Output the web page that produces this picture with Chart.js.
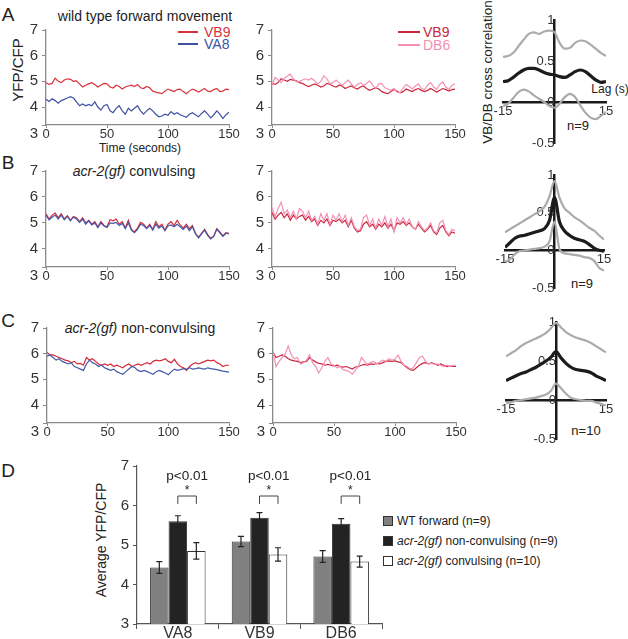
<!DOCTYPE html>
<html>
<head>
<meta charset="utf-8">
<title>YFP/CFP ratios in motor neurons</title>
<script src="https://cdn.jsdelivr.net/npm/chart.js"></script>
<style>
body { margin: 0; background: #fff; font-family: "Liberation Sans", Arial, sans-serif; color: #222; }
#wrap { position: relative; width: 628px; height: 639px; overflow: hidden; }
#wrap canvas { position: absolute; left: 0; top: 0; }
.t { position: absolute; white-space: nowrap; line-height: 1; transform: translate(-50%, -50%); }
.l { position: absolute; white-space: nowrap; line-height: 1; transform: translate(0, -50%); }
.rot { transform: translate(-50%, -50%) rotate(-90deg); }
.seg { position: absolute; height: 2px; }
.sw { position: absolute; width: 8px; height: 8px; border: 1px solid #333; }
</style>
</head>
<body>
<div id="wrap">
  <div class="t" style="left:8px;top:14px;font-size:19px">A</div>
  <div class="t" style="left:8px;top:162px;font-size:19px">B</div>
  <div class="t" style="left:8px;top:320px;font-size:19px">C</div>
  <div class="t" style="left:8px;top:470px;font-size:19px">D</div>

  <div class="t" style="left:145px;top:16px;font-size:14px">wild type forward movement</div>
  <div class="t" style="left:134px;top:171px;font-size:14px"><i>acr-2(gf)</i> convulsing</div>
  <div class="t" style="left:140px;top:328px;font-size:14px"><i>acr-2(gf)</i> non-convulsing</div>

  <div class="t rot" style="left:17px;top:70px;font-size:15px">YFP/CFP</div>
  <div class="t" style="left:140px;top:148px;font-size:12px">Time (seconds)</div>

  <div class="seg" style="left:178px;top:31px;width:20px;background:#d8323c"></div>
  <div class="l" style="left:204px;top:32px;font-size:14px;color:#d8323c">VB9</div>
  <div class="seg" style="left:178px;top:43px;width:20px;background:#3f52a3"></div>
  <div class="l" style="left:204px;top:44px;font-size:14px;color:#3f52a3">VA8</div>

  <div class="seg" style="left:398px;top:31px;width:22px;background:#c9283c"></div>
  <div class="l" style="left:423px;top:32px;font-size:14px;color:#c9283c">VB9</div>
  <div class="seg" style="left:398px;top:44px;width:22px;background:#f291b5"></div>
  <div class="l" style="left:423px;top:45px;font-size:14px;color:#f291b5">DB6</div>

  <div class="t rot" style="left:488px;top:72px;font-size:13.5px">VB/DB cross correlation</div>
  <div class="t" style="left:610px;top:89px;font-size:12px">Lag (s)</div>
  <div class="t" style="left:578px;top:125px;font-size:13px">n=9</div>
  <div class="t" style="left:582px;top:283px;font-size:13px">n=9</div>
  <div class="t" style="left:586px;top:430px;font-size:13px">n=10</div>

  <div class="t rot" style="left:101px;top:540px;font-size:14px">Average YFP/CFP</div>

  <div class="sw" style="left:383px;top:516px;background:#808080"></div>
  <div class="l" style="left:397px;top:521px;font-size:12px">WT forward (n=9)</div>
  <div class="sw" style="left:383px;top:536px;background:#222"></div>
  <div class="l" style="left:397px;top:541px;font-size:12px"><i>acr-2(gf)</i> non-convulsing (n=9)</div>
  <div class="sw" style="left:383px;top:556px;background:#fff"></div>
  <div class="l" style="left:397px;top:561px;font-size:12px"><i>acr-2(gf)</i> convulsing (n=10)</div>
</div>

<script>
// time axis (seconds) shared by every trace
var TIME = [0,2.5,5,7.5,10,12.5,15,17.5,20,22.5,25,27.5,30,32.5,35,37.5,40,42.5,45,47.5,
  50,52.5,55,57.5,60,62.5,65,67.5,70,72.5,75,77.5,80,82.5,85,87.5,90,92.5,95,97.5,
  100,102.5,105,107.5,110,112.5,115,117.5,120,122.5,125,127.5,130,132.5,135,137.5,140,142.5,145,147.5,150];
var TIME_TICKS = [0, 50, 100, 150];
var RATIO_TICKS = [3, 4, 5, 6, 7];

// A: wild type forward movement
var A_VB9 = [4.95,4.88,4.92,5.12,5.0,4.95,5.05,5.1,5.08,5.0,
  5.02,4.9,4.78,4.85,4.9,4.95,4.88,4.78,4.85,4.92,
  4.9,4.78,4.74,4.85,4.8,4.7,4.78,4.82,4.85,4.8,
  4.88,4.75,4.72,4.8,4.75,4.62,4.58,4.55,4.52,4.62,
  4.7,4.65,4.6,4.68,4.7,4.6,4.52,4.62,4.7,4.65,
  4.58,4.65,4.72,4.62,4.6,4.68,4.72,4.6,4.62,4.7,4.68];
var A_VA8 = [4.3,4.22,4.32,4.25,4.15,4.25,4.3,4.35,4.4,4.35,
  4.2,4.05,4.12,4.05,4.1,4.05,4.2,4.0,3.88,4.05,
  4.1,3.85,3.78,3.95,4.05,3.85,3.72,3.95,3.85,3.95,
  4.05,3.85,3.72,3.85,3.95,3.85,3.72,3.62,3.65,3.72,
  3.68,3.82,3.72,3.78,3.7,3.65,3.6,3.72,3.78,3.7,
  3.62,3.75,3.85,3.72,3.58,3.7,3.85,3.72,3.55,3.7,3.8];
var A2_VB9 = [4.92,4.88,4.95,5.1,5.05,5.0,5.08,5.05,5.02,4.95,
  4.92,4.85,4.8,4.85,4.9,4.85,4.78,4.82,4.92,4.88,
  4.82,4.78,4.85,4.82,4.72,4.78,4.82,4.75,4.7,4.78,
  4.82,4.72,4.65,4.7,4.75,4.7,4.6,4.55,4.52,4.6,
  4.68,4.62,4.55,4.6,4.7,4.65,4.6,4.68,4.72,4.65,
  4.6,4.65,4.72,4.65,4.58,4.65,4.72,4.68,4.62,4.68,4.7];
var A2_DB6 = [4.85,5.15,5.05,4.95,5.12,5.2,5.28,5.1,4.98,5.0,
  5.05,5.1,5.05,5.12,5.02,4.9,5.0,5.22,5.1,4.9,
  4.95,5.05,4.95,4.85,4.95,5.05,4.9,4.78,4.88,4.95,
  4.85,4.92,5.02,4.85,4.72,4.9,4.92,4.75,4.7,4.65,
  4.72,4.58,4.55,4.75,4.88,4.8,4.7,4.82,4.9,4.72,
  4.68,4.85,4.95,4.78,4.7,4.88,4.98,4.78,4.68,4.85,4.9];

// B: acr-2(gf) convulsing
var B_VB9 = [5.35,5.15,5.3,5.38,5.2,5.35,5.15,5.28,5.1,5.25,
  5.2,5.05,5.2,5.0,5.1,4.95,5.05,4.85,5.05,4.9,
  4.85,5.12,5.08,5.15,4.95,5.05,4.8,5.1,4.75,4.65,
  4.8,5.02,4.95,4.8,4.95,4.75,5.05,4.85,4.95,4.72,
  4.95,5.05,4.9,5.1,4.92,4.8,4.95,4.78,4.9,4.6,
  4.45,4.6,4.75,4.55,4.4,4.5,4.78,4.65,4.5,4.62,4.6];
var B_VA8 = [5.3,5.12,5.22,5.3,5.15,5.3,5.12,5.25,5.08,5.22,
  5.15,5.02,5.15,4.95,5.08,4.92,5.0,4.82,5.0,4.88,
  4.82,5.0,4.98,5.02,4.9,4.98,4.78,5.0,4.72,4.62,
  4.75,4.95,4.9,4.78,4.9,4.72,4.95,4.8,4.88,4.7,
  4.88,4.92,4.85,4.95,4.85,4.75,4.88,4.7,4.85,4.58,
  4.42,4.58,4.72,4.52,4.38,4.48,4.75,4.62,4.48,4.6,4.58];
var B2_VB9 = [5.4,5.15,5.3,5.4,5.2,5.35,5.1,5.3,5.15,5.25,
  5.3,5.1,5.25,5.05,5.15,4.9,5.1,5.0,5.15,4.9,
  5.1,5.05,5.15,5.0,5.1,4.85,5.1,4.8,4.65,4.7,
  4.95,5.05,4.85,4.95,4.75,4.95,4.85,5.0,4.8,4.95,
  4.7,5.0,4.95,5.05,4.9,5.0,4.85,4.75,4.95,4.8,
  4.65,4.75,4.9,4.65,4.55,4.8,4.9,4.65,4.5,4.65,4.6];
var B2_DB6 = [5.6,5.25,5.55,5.8,5.35,5.5,5.2,5.45,5.15,5.55,
  5.45,5.2,5.45,5.1,5.25,4.95,5.35,5.1,5.35,4.95,
  5.3,5.1,5.35,5.05,5.3,4.9,5.2,4.85,4.7,4.75,
  5.2,5.3,4.9,5.15,4.8,5.15,4.9,5.25,4.85,5.15,
  4.65,5.2,5.0,5.2,4.95,5.15,4.85,4.75,5.05,4.85,
  4.7,4.8,5.0,4.7,4.6,5.0,5.1,4.7,4.55,4.75,4.7];

// C: acr-2(gf) non-convulsing
var C_VB9 = [6.05,5.95,5.95,5.9,5.85,5.8,5.75,5.72,5.65,5.7,
  5.6,5.62,5.55,5.85,5.75,5.8,5.7,5.6,5.55,5.6,
  5.55,5.6,5.5,5.55,5.5,5.45,5.55,5.6,5.5,5.55,
  5.6,5.55,5.6,5.65,5.6,5.7,5.75,5.72,5.75,5.8,
  5.7,5.65,5.78,5.6,5.5,5.45,5.35,5.5,5.6,5.65,
  5.6,5.65,5.7,5.75,5.72,5.75,5.65,5.6,5.5,5.55,5.55];
var C_VA8 = [5.9,5.95,5.85,5.75,5.8,5.7,5.65,5.6,5.65,5.5,
  5.45,5.4,5.35,5.6,5.75,5.65,5.6,5.5,5.55,5.45,
  5.4,5.35,5.4,5.3,5.25,5.2,5.3,5.4,5.5,5.45,
  5.35,5.3,5.35,5.3,5.25,5.2,5.3,5.35,5.3,5.25,
  5.18,5.3,5.4,5.35,5.38,5.42,5.4,5.45,5.4,5.42,
  5.45,5.42,5.4,5.45,5.42,5.4,5.38,5.35,5.32,5.3,5.28];
var C2_VB9 = [6.05,5.85,5.9,5.95,5.9,5.8,5.75,5.72,5.7,5.65,
  5.68,5.7,5.85,5.75,5.68,5.62,5.6,5.55,5.58,5.55,
  5.52,5.55,5.5,5.48,5.5,5.45,5.4,5.48,5.5,5.55,
  5.58,5.55,5.6,5.58,5.62,5.6,5.65,5.7,5.72,5.7,
  5.72,5.68,5.65,5.55,5.45,5.38,5.35,5.45,5.55,5.62,
  5.65,5.6,5.65,5.6,5.55,5.6,5.55,5.5,5.52,5.5,5.5];
var C2_DB6 = [6.1,5.5,5.7,5.85,6.0,6.3,5.95,5.8,5.85,5.6,
  5.65,5.75,5.95,5.65,5.5,5.25,5.45,5.7,5.85,5.6,
  5.55,5.45,5.5,5.38,5.35,5.3,5.2,5.35,5.5,5.85,
  5.7,5.6,5.65,5.7,5.6,5.68,5.75,5.7,5.8,5.75,
  5.78,5.95,5.7,5.55,5.5,5.4,5.45,5.65,5.85,5.9,
  5.7,5.6,5.62,5.58,5.6,5.55,5.5,5.55,5.5,5.55,5.55];

// VB/DB cross correlation (mean and +/- bounds) against lag in seconds
var LAG = [-15,-13.5,-12,-10.5,-9,-7.5,-6,-4.5,-3,-1.5,0,1.5,3,4.5,6,7.5,9,10.5,12,13.5,15];
var LAG_TICKS = [-15, 15];
var XC_TICKS = [-0.5, 0, 0.5, 1];
var XA_HI = [0.55,0.56,0.6,0.68,0.76,0.83,0.85,0.83,0.86,0.87,0.85,0.72,0.65,0.66,0.72,0.75,0.74,0.7,0.65,0.6,0.56];
var XA_MEAN = [0.25,0.26,0.3,0.35,0.39,0.41,0.41,0.39,0.36,0.34,0.33,0.31,0.3,0.33,0.37,0.39,0.37,0.32,0.27,0.24,0.25];
var XA_LO = [-0.05,-0.02,0.05,0.12,0.15,0.13,0.08,0.04,0.0,-0.05,-0.07,-0.02,0.06,0.1,0.06,-0.04,-0.13,-0.19,-0.21,-0.17,-0.12];
var XB_HI = [0.24,0.28,0.32,0.36,0.4,0.44,0.48,0.52,0.58,0.72,0.92,0.7,0.56,0.5,0.44,0.4,0.35,0.3,0.26,0.2,0.14];
var XB_MEAN = [0.04,0.1,0.16,0.19,0.2,0.22,0.24,0.26,0.29,0.4,0.7,0.38,0.26,0.2,0.16,0.14,0.12,0.08,0.03,0.0,-0.01];
var XB_LO = [-0.15,-0.12,-0.05,-0.01,0.0,0.01,0.02,0.03,0.05,0.12,0.38,0.02,-0.04,-0.05,-0.06,-0.07,-0.09,-0.1,-0.14,-0.23,-0.27];
var XC_HI = [0.56,0.6,0.64,0.69,0.73,0.76,0.79,0.82,0.86,0.92,0.99,0.93,0.87,0.83,0.8,0.78,0.76,0.73,0.69,0.65,0.61];
var XC_MEAN = [0.25,0.28,0.31,0.34,0.36,0.39,0.42,0.46,0.5,0.55,0.62,0.54,0.47,0.42,0.39,0.38,0.37,0.35,0.31,0.28,0.25];
var XC_LO = [-0.04,-0.03,-0.01,0.0,0.01,0.02,0.03,0.05,0.07,0.12,0.21,0.15,0.08,0.03,0.01,0.0,-0.01,-0.01,-0.03,-0.05,-0.07];

// D: average YFP/CFP
var NEURONS = ['VA8', 'VB9', 'DB6'];
var WT_MEAN = [4.43, 5.09, 4.71];
var WT_ERR = [0.15, 0.13, 0.15];
var NONCONV_MEAN = [5.6, 5.69, 5.54];
var NONCONV_ERR = [0.14, 0.13, 0.13];
var CONV_MEAN = [4.85, 4.76, 4.58];
var CONV_ERR = [0.21, 0.17, 0.14];
var P_LABEL = 'p<0.01';

var W = 628, H = 639;
var YW = 40, XH = 15;   // room kept for y tick labels and x tick labels
var AXIS = '#8a8a8a';
Chart.defaults.font.family = '"Liberation Sans", Arial, sans-serif';
Chart.defaults.color = '#333';

var wrap = document.getElementById('wrap');

function newCanvas() {
  var c = document.createElement('canvas');
  c.width = W;
  c.height = H;
  wrap.appendChild(c);
  return c;
}

// plot area in page pixels: left, top, right, bottom (axes get a fixed size below)
function area(l, t, r, b) {
  return { left: l - YW, top: t, right: W - r, bottom: H - b - XH };
}
// centred axes take no layout room at all
function openArea(l, t, r, b) {
  return { left: l, top: t, right: W - r, bottom: H - b };
}

function fixSize(s) {
  if (s.isHorizontal()) s.height = XH; else s.width = YW;
}

function addText(html, x, y, size) {
  var d = document.createElement('div');
  d.className = 't';
  d.style.left = x + 'px';
  d.style.top = y + 'px';
  d.style.fontSize = size + 'px';
  d.innerHTML = html;
  wrap.appendChild(d);
}

function trace(pad, series) {
  new Chart(newCanvas(), {
    type: 'line',
    data: {
      datasets: series.map(function (s) {
        return {
          data: TIME.map(function (t, i) { return { x: t, y: s.values[i] }; }),
          borderColor: s.color,
          borderWidth: 1.2,
          pointRadius: 0,
          tension: 0
        };
      })
    },
    options: {
      responsive: false,
      animation: false,
      devicePixelRatio: 1,
      layout: { padding: pad },
      plugins: { legend: { display: false }, tooltip: { enabled: false } },
      scales: {
        x: {
          type: 'linear', min: 0, max: 150,
          afterFit: fixSize,
          afterBuildTicks: function (s) { s.ticks = TIME_TICKS.map(function (v) { return { value: v }; }); },
          ticks: { font: { size: 13, lineHeight: 1 }, padding: 0, maxRotation: 0, autoSkip: false, color: '#333' },
          grid: { drawOnChartArea: false, tickLength: 3, color: AXIS },
          border: { color: AXIS, width: 1.3 }
        },
        y: {
          min: 3.3, max: 7,
          afterFit: fixSize,
          // the x axis sits a little above 3; the lowest label "3" hangs just below it
          afterBuildTicks: function (s) { s.ticks = RATIO_TICKS.map(function (v) { return { value: Math.max(v, 3.3) }; }); },
          ticks: {
            font: { size: 15 }, padding: 4, autoSkip: false, color: '#333',
            callback: function (v, i) { return i === 0 ? ['', String(RATIO_TICKS[i])] : String(RATIO_TICKS[i]); }
          },
          grid: { drawOnChartArea: false, tickLength: 4, color: AXIS },
          border: { color: AXIS, width: 1.3 }
        }
      }
    }
  });
}

function xcorr(pad, hi, mean, lo) {
  var gray = '#ababab';
  new Chart(newCanvas(), {
    type: 'line',
    data: {
      datasets: [
        { data: LAG.map(function (t, i) { return { x: t, y: hi[i] }; }), borderColor: gray, borderWidth: 2.2 },
        { data: LAG.map(function (t, i) { return { x: t, y: lo[i] }; }), borderColor: gray, borderWidth: 2.2 },
        { data: LAG.map(function (t, i) { return { x: t, y: mean[i] }; }), borderColor: '#1c1c1c', borderWidth: 3.2 }
      ]
    },
    options: {
      responsive: false,
      animation: false,
      devicePixelRatio: 1,
      layout: { padding: pad },
      elements: { point: { radius: 0 }, line: { cubicInterpolationMode: 'monotone' } },
      plugins: { legend: { display: false }, tooltip: { enabled: false } },
      scales: {
        x: {
          type: 'linear', min: -15, max: 15, position: { y: 0 },
          afterBuildTicks: function (s) { s.ticks = LAG_TICKS.map(function (v) { return { value: v }; }); },
          ticks: { font: { size: 13, lineHeight: 1 }, padding: 3, maxRotation: 0, autoSkip: false, color: '#333' },
          grid: { drawOnChartArea: false, drawTicks: false },
          border: { color: '#1a1a1a', width: 2.5 }
        },
        y: {
          min: -0.5, max: 1, position: { x: 0 },
          afterBuildTicks: function (s) { s.ticks = XC_TICKS.map(function (v) { return { value: v }; }); },
          ticks: {
            font: { size: 13 }, padding: 3, autoSkip: false, color: '#333',
            callback: function (v, i) { return String(XC_TICKS[i]); }
          },
          grid: { drawOnChartArea: false, drawTicks: false },
          border: { color: '#1a1a1a', width: 2.5 }
        }
      }
    }
  });
}

trace(area(46, 30, 229, 125), [
  { values: A_VB9, color: '#d8323c' },
  { values: A_VA8, color: '#3f52a3' }
]);
trace(area(272, 30, 455, 125), [
  { values: A2_DB6, color: '#f291b5' },
  { values: A2_VB9, color: '#c9283c' }
]);
xcorr(openArea(503, 20, 606, 143), XA_HI, XA_MEAN, XA_LO);

trace(area(46, 171, 229, 267), [
  { values: B_VA8, color: '#4458a8' },
  { values: B_VB9, color: '#d42a3a' }
]);
trace(area(272, 171, 455, 267), [
  { values: B2_DB6, color: '#f291b5' },
  { values: B2_VB9, color: '#c9283c' }
]);
xcorr(openArea(505, 175, 604, 288), XB_HI, XB_MEAN, XB_LO);

trace(area(47, 328, 229, 423), [
  { values: C_VA8, color: '#4458a8' },
  { values: C_VB9, color: '#d42a3a' }
]);
trace(area(273, 328, 456, 423), [
  { values: C2_DB6, color: '#f291b5' },
  { values: C2_VB9, color: '#c9283c' }
]);
xcorr(openArea(506, 322, 606, 439), XC_HI, XC_MEAN, XC_LO);

// error bars and significance brackets for panel D
var barExtras = {
  id: 'barExtras',
  afterDatasetsDraw: function (chart) {
    var ctx = chart.ctx, y = chart.scales.y;
    ctx.save();
    ctx.strokeStyle = '#222';
    ctx.lineWidth = 1.2;
    chart.data.datasets.forEach(function (ds, i) {
      chart.getDatasetMeta(i).data.forEach(function (bar, j) {
        var top = y.getPixelForValue(ds.data[j] + ds.errors[j]);
        var bot = y.getPixelForValue(ds.data[j] - ds.errors[j]);
        ctx.beginPath();
        ctx.moveTo(bar.x, top); ctx.lineTo(bar.x, bot);
        ctx.moveTo(bar.x - 3, top); ctx.lineTo(bar.x + 3, top);
        ctx.moveTo(bar.x - 3, bot); ctx.lineTo(bar.x + 3, bot);
        ctx.stroke();
      });
    });
    var m1 = chart.getDatasetMeta(1), m2 = chart.getDatasetMeta(2);
    var yTop = y.getPixelForValue(6.24), yEnd = y.getPixelForValue(6.04);
    ctx.strokeStyle = '#444';
    ctx.lineWidth = 1;
    NEURONS.forEach(function (n, j) {
      ctx.beginPath();
      ctx.moveTo(m1.data[j].x, yEnd);
      ctx.lineTo(m1.data[j].x, yTop);
      ctx.lineTo(m2.data[j].x, yTop);
      ctx.lineTo(m2.data[j].x, yEnd);
      ctx.stroke();
    });
    ctx.restore();
  }
};

var barPad = area(137, 466, 382, 624);
barPad.bottom = 0;

var bars = new Chart(newCanvas(), {
  type: 'bar',
  data: {
    labels: NEURONS,
    datasets: [
      { label: 'WT forward (n=9)', data: WT_MEAN, errors: WT_ERR, backgroundColor: '#808080' },
      { label: 'acr-2(gf) non-convulsing (n=9)', data: NONCONV_MEAN, errors: NONCONV_ERR, backgroundColor: '#232323' },
      { label: 'acr-2(gf) convulsing (n=10)', data: CONV_MEAN, errors: CONV_ERR, backgroundColor: '#ffffff' }
    ]
  },
  options: {
    responsive: false,
    animation: false,
    devicePixelRatio: 1,
    layout: { padding: barPad },
    datasets: { bar: { categoryPercentage: 0.68, barPercentage: 1, borderColor: '#333', borderWidth: 1 } },
    plugins: { legend: { display: false }, tooltip: { enabled: false } },
    scales: {
      x: {
        afterFit: function (s) { s.height = H - 624; },
        ticks: { font: { size: 16, lineHeight: 1 }, padding: -3, color: '#333' },
        grid: { offset: true, drawOnChartArea: false, tickLength: 5, color: '#555' },
        border: { color: '#555', width: 1.2 }
      },
      y: {
        min: 3, max: 7,
        afterFit: fixSize,
        ticks: { stepSize: 1, font: { size: 15 }, padding: 4, color: '#333' },
        grid: { drawOnChartArea: false, tickLength: 4, color: '#555' },
        border: { color: '#555', width: 1.2 }
      }
    }
  },
  plugins: [barExtras]
});

(function () {
  var m1 = bars.getDatasetMeta(1), m2 = bars.getDatasetMeta(2), y = bars.scales.y;
  NEURONS.forEach(function (n, j) {
    var cx = (m1.data[j].x + m2.data[j].x) / 2;
    addText(P_LABEL.replace('<', '&lt;'), cx, y.getPixelForValue(6.74), 13.5);
    addText('*', cx, y.getPixelForValue(6.4), 12);
  });
})();
</script>
</body>
</html>
